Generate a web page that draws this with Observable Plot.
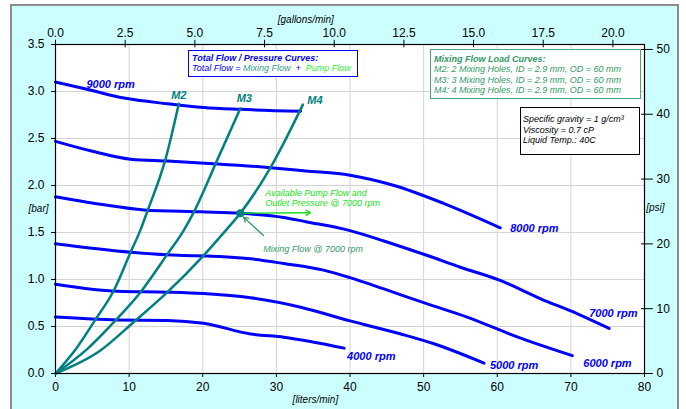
<!DOCTYPE html>
<html>
<head>
<meta charset="utf-8">
<script src="https://cdn.jsdelivr.net/npm/d3@7"></script>
<script src="https://cdn.jsdelivr.net/npm/@observablehq/plot@0.6"></script>
<style>
  html, body { margin: 0; padding: 0; background: #ffffff; }
  #wrap { position: relative; width: 686px; height: 409px; overflow: hidden; font-family: "Liberation Sans", Arial, sans-serif; }
  #panel { position: absolute; left: 10px; top: 4px; width: 669px; height: 430px; box-sizing: border-box; background: #ccffff; border: 2px solid #8c8c8c; }
  #chart { position: absolute; left: 0; top: 0; }
  .box { position: absolute; box-sizing: border-box; font-style: italic; font-size: 9px; line-height: 10.3px; white-space: nowrap; background: #ffffff; }
  #box1 { left: 188px; top: 50px; width: 170px; height: 27px; border: 1.5px solid #0000ff; padding: 2px 3px; color: #0000ff; }
  #box2 { left: 430px; top: 49px; width: 211px; height: 50px; border: 1.5px solid #4aa57a; padding: 4px 3px; color: #339966; }
  #box3 { left: 520px; top: 107px; width: 120px; height: 48px; border: 1.5px solid #000000; padding: 6px 2px; color: #000000; line-height: 10.5px; }
  b { font-weight: bold; }
</style>
</head>
<body>
<div id="wrap">
  <div id="panel"></div>
  <div id="chart"></div>
  <div class="box" id="box1"><b>Total Flow / Pressure Curves:</b><br>Total Flow = <span style="color:#3a9a8e">Mixing Flow</span>&nbsp; + &nbsp;<span style="color:#33ee33">Pump Flow</span></div>
  <div class="box" id="box2"><b>Mixing Flow Load Curves:</b><br>M2: 2 Mixing Holes, ID = 2.9 mm, OD = 60 mm<br>M3: 3 Mixing Holes, ID = 2.9 mm, OD = 60 mm<br>M4: 4 Mixing Holes, ID = 2.9 mm, OD = 60 mm</div>
  <div class="box" id="box3">Specific gravity = 1 g/cm³<br>Viscosity = 0.7 cP<br>Liquid Temp.: 40C</div>
</div>
<script>
// ---- data: [flow (liters/min), pressure (bar)] ----
const rpm9000 = [[0,3.10],[4,3.03],[9.3,2.93],[15.2,2.87],[20.1,2.83],[25.1,2.81],[33.3,2.79]];
const rpm8000 = [[0,2.47],[4.75,2.37],[10.2,2.28],[15.2,2.26],[22,2.23],[29.2,2.19],[34,2.155],[40,2.11],[46,2.0],[52.7,1.81],[60.4,1.55]];
const rpm7000 = [[0,1.88],[6.1,1.80],[12,1.74],[19.7,1.72],[25.1,1.705],[31,1.66],[34,1.615],[40,1.52],[44.6,1.41],[50.5,1.255],[55,1.13],[60.4,0.99],[65.9,0.795],[70.9,0.635],[75.2,0.48]];
const rpm6000 = [[0,1.38],[10.2,1.29],[17.4,1.255],[20.6,1.25],[26.5,1.22],[31,1.17],[36.4,1.10],[40,1.02],[44.6,0.90],[50.5,0.74],[55.9,0.60],[62.7,0.39],[70.2,0.19]];
const rpm5000 = [[0,0.95],[8.4,0.875],[15.2,0.865],[20.1,0.85],[26.5,0.805],[33.3,0.705],[40,0.56],[46.9,0.42],[51.4,0.316],[58.2,0.11]];
const rpm4000 = [[0,0.60],[8.4,0.57],[15.2,0.565],[20.1,0.535],[26.5,0.42],[31,0.386],[39.2,0.27]];
const mixM2 = [[0,0],[2.95,0.28],[5.4,0.57],[7.9,0.88],[10.2,1.29],[11.5,1.52],[12.45,1.72],[14.94,2.28],[16.75,2.87]];
const mixM3 = [[0,0],[4.3,0.26],[8.15,0.565],[11.55,0.865],[15.2,1.27],[17.4,1.52],[18.8,1.72],[21.96,2.27],[25.1,2.82]];
const mixM4 = [[0,0],[6.1,0.245],[10.6,0.545],[15.2,0.865],[20.1,1.255],[23.1,1.52],[25.1,1.705],[29.2,2.19],[33.6,2.86]];
const operatingPoint = [[25.1,1.705]];
const pumpArrow = [[25.1,1.705,34.65,1.71]];
const mixArrow = [[28.25,1.468,25.55,1.663]];
const litersTicks = [0,10,20,30,40,50,60,70,80];
const barTicks = [0,0.5,1,1.5,2,2.5,3,3.5];
const gallonTicks = [0,2.5,5,7.5,10,12.5,15,17.5,20];
const psiTicks = [0,10,20,30,40,50];
const LPG = 3.78541;   // liters per gallon
const PSI = 14.5038;   // psi per bar

const blue = "#0000ff", teal = "#008080";
const X = d => d[0], Y = d => d[1];
const rpmCurves = [rpm9000, rpm8000, rpm7000, rpm6000, rpm5000, rpm4000];
const mixCurves = [mixM2, mixM3, mixM4];
const lbl = {fontFamily: "Liberation Sans", fontStyle: "italic", fontWeight: "bold", fontSize: 11};

const chart = Plot.plot({
  width: 686, height: 409,
  marginLeft: 55, marginRight: 42, marginTop: 44, marginBottom: 36,
  style: {background: "transparent", fontFamily: "Liberation Sans", fontSize: "12px", color: "#000", overflow: "visible"},
  x: {domain: [0, 80], ticks: 8, tickSize: 4, tickPadding: 5, label: null},
  y: {domain: [0, 3.5], ticks: 7, tickFormat: ".1f", tickSize: 4, tickPadding: 7, label: null},
  marks: [
    Plot.frame({fill: "#ffffff", stroke: null}),
    Plot.ruleX(litersTicks.filter(d => d > 0 && d < 80), {stroke: "#d4d4d4", strokeWidth: 1}),
    Plot.ruleY(barTicks.filter(d => d > 0 && d < 3.5), {stroke: "#d4d4d4", strokeWidth: 1}),
    ...rpmCurves.map(c => Plot.line(c, {x: X, y: Y, stroke: blue, strokeWidth: 3, curve: "monotone-x"})),
    ...mixCurves.map(c => Plot.line(c, {x: X, y: Y, stroke: teal, strokeWidth: 2.5, curve: "monotone-x"})),
    Plot.frame({stroke: "#000", strokeWidth: 1.2}),
    // top gallons axis
    Plot.ruleX(gallonTicks, {x: d => d * LPG, y1: 3.5 - 0.035, y2: 3.5 + 0.045, stroke: "#000"}),
    Plot.text(gallonTicks, {x: d => d * LPG, text: d => d.toFixed(1), frameAnchor: "top", dy: -16, fontSize: 12}),
    Plot.text(["[gallons/min]"], {x: () => 34, frameAnchor: "top", dy: -29, fontSize: 10, fontStyle: "italic"}),
    // right psi axis
    Plot.ruleY(psiTicks, {y: d => d / PSI, x1: 79.6, x2: 81.2, stroke: "#000"}),
    Plot.text(psiTicks, {y: d => d / PSI, text: d => String(d), frameAnchor: "right", dx: 12, textAnchor: "start", fontSize: 12}),
    Plot.text(["[psi]"], {y: () => 1.76, frameAnchor: "right", dx: 20, fontSize: 10, fontStyle: "italic"}),
    // left / bottom titles
    Plot.text(["[bar]"], {y: () => 1.755, frameAnchor: "left", dx: -27, fontSize: 10, fontStyle: "italic"}),
    Plot.text(["[liters/min]"], {x: () => 35.3, frameAnchor: "bottom", dy: 29, fontSize: 10, fontStyle: "italic"}),
    // rpm labels
    Plot.text([rpm9000[0]], {x: X, y: Y, text: () => "9000 rpm", dx: 31, dy: 2, textAnchor: "start", fill: blue, ...lbl}),
    Plot.text([rpm8000.at(-1)], {x: X, y: Y, text: () => "8000 rpm", dx: 10, dy: 1, textAnchor: "start", fill: blue, ...lbl}),
    Plot.text([rpm7000.at(-1)], {x: X, y: Y, text: () => "7000 rpm", dx: -20, dy: -15, textAnchor: "start", fill: blue, ...lbl}),
    Plot.text([rpm6000.at(-1)], {x: X, y: Y, text: () => "6000 rpm", dx: 11, dy: 8, textAnchor: "start", fill: blue, ...lbl}),
    Plot.text([rpm5000.at(-1)], {x: X, y: Y, text: () => "5000 rpm", dx: 6, dy: 2, textAnchor: "start", fill: blue, ...lbl}),
    Plot.text([rpm4000.at(-1)], {x: X, y: Y, text: () => "4000 rpm", dx: 3, dy: 8, textAnchor: "start", fill: blue, ...lbl}),
    // mixing curve labels
    Plot.text([mixM2.at(-1)], {x: X, y: Y, text: () => "M2", dx: 0, dy: -8, fill: teal, ...lbl}),
    Plot.text([mixM3.at(-1)], {x: X, y: Y, text: () => "M3", dx: 4, dy: -10, fill: teal, ...lbl}),
    Plot.text([mixM4.at(-1)], {x: X, y: Y, text: () => "M4", dx: 12, dy: -4, fill: teal, ...lbl}),
    // annotations
    Plot.arrow(pumpArrow, {x1: d => d[0], y1: d => d[1], x2: d => d[2], y2: d => d[3], stroke: "#11dd11", strokeWidth: 1.3, headLength: 6}),
    Plot.arrow(mixArrow, {x1: d => d[0], y1: d => d[1], x2: d => d[2], y2: d => d[3], stroke: "#339966", strokeWidth: 1.3, headLength: 6}),
    Plot.dot(operatingPoint, {x: X, y: Y, r: 4, fill: teal, stroke: null}),
    Plot.text(operatingPoint, {x: X, y: Y, text: () => "Available Pump Flow and\nOutlet Pressure @ 7000 rpm", dx: 25, dy: -15.5, textAnchor: "start", lineHeight: 1.18, fill: "#22dd22", fontSize: 9, fontStyle: "italic"}),
    Plot.text(operatingPoint, {x: X, y: Y, text: () => "Mixing Flow @ 7000 rpm", dx: 23, dy: 36, textAnchor: "start", fill: "#339966", fontSize: 9, fontStyle: "italic"})
  ]
});
document.getElementById("chart").appendChild(chart);
</script>
</body>
</html>
